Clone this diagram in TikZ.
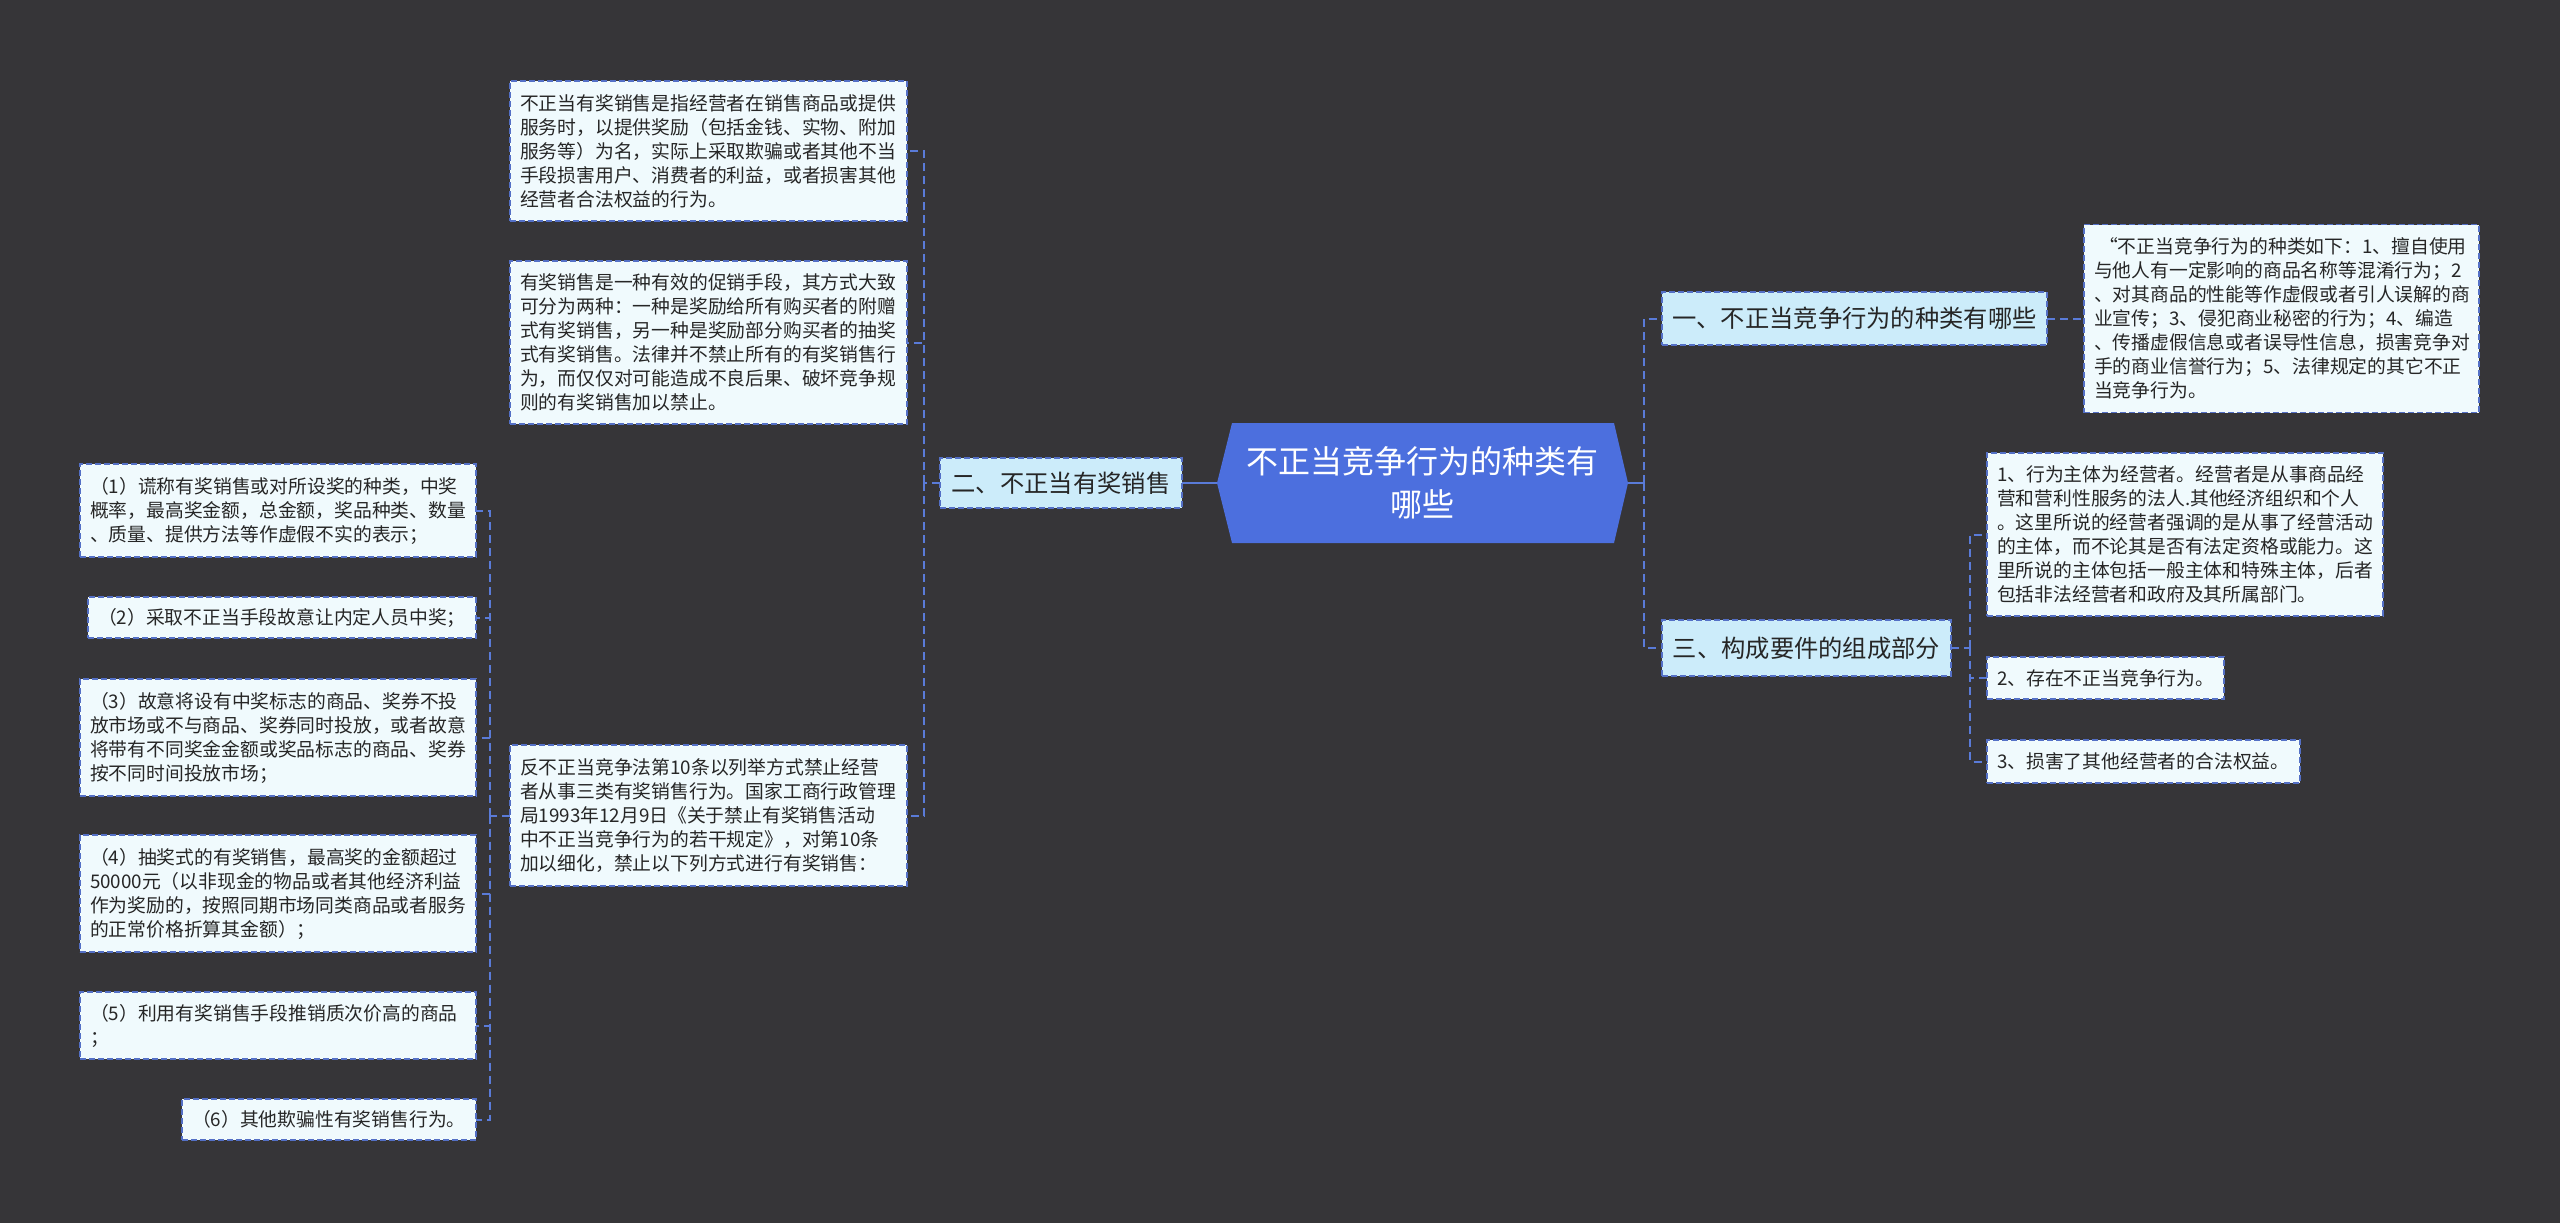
\documentclass[tikz,border=0pt]{standalone}
\usepackage{fontspec}
\setmainfont{Noto Sans CJK SC}
\usetikzlibrary{positioning, calc, backgrounds}
\definecolor{bgdark}{RGB}{54,53,56}
\definecolor{rootblue}{RGB}{76,111,222}
\definecolor{keyfill}{RGB}{204,236,250}
\definecolor{leaffill}{RGB}{240,250,253}
\definecolor{edgeblue}{RGB}{84,112,198}
\definecolor{linkblue}{RGB}{90,123,216}

\begin{document}
\begin{tikzpicture}[x=1pt, y=-1pt,
    every node/.style={inner sep=0pt, outer sep=0pt, text=black!85},
    root/.style={minimum width=411pt, minimum height=120pt, text=white, align=center, font=\fontsize{32}{43}\selectfont},
    keybox/.style={draw=edgeblue, dash pattern=on 6pt off 3pt, line width=1.5pt, fill=keyfill, minimum height=53pt, font=\fontsize{24.3}{30}\selectfont},
    leafbox/.style={draw=edgeblue, dash pattern=on 6pt off 3pt, line width=1.5pt, fill=leaffill, inner xsep=10pt, inner ysep=4pt, align=left, font=\fontsize{18.8}{24}\selectfont},
    link/.style={draw=linkblue, line width=2pt, dash pattern=on 8pt off 5pt},
    trunk/.style={draw=linkblue, line width=2pt}]

    \begin{scope}[on background layer]
        \fill[bgdark] ({0},{0}) rectangle ({2560},{1223});
    \end{scope}

    % centre
    \node[root] (root) at ({1422.5},{483}) {不正当竞争行为的种类有\\哪些};
    \begin{scope}[on background layer]
        \fill[rootblue] (root.west) -- ([xshift=15pt]root.north west) -- ([xshift=-14pt]root.north east)
            -- (root.east) -- ([xshift=-14pt]root.south east) -- ([xshift=15pt]root.south west) -- cycle;
    \end{scope}

    % first level
    \node[keybox, minimum width=385pt] (k1) at ({1854.5},{318.5}) {一、不正当竞争行为的种类有哪些};
    \node[keybox, minimum width=242pt, minimum height=50pt] (k2) at ({1061},{483}) {二、不正当有奖销售};
    \node[keybox, minimum width=289pt, minimum height=56pt] (k3) at ({1806.5},{648}) {三、构成要件的组成部分};

    % right side
    \node[leafbox, text width=375pt, minimum height=188pt] (r1) at ({2281.5},{318.5}) {\hspace{5pt}“不正当竞争行为的种类如下：1、擅自使用\\与他人有一定影响的商品名称等混淆行为；2\\、对其商品的性能等作虚假或者引人误解的商\\业宣传；3、侵犯商业秘密的行为；4、编造\\、传播虚假信息或者误导性信息，损害竞争对\\手的商业信誉行为；5、法律规定的其它不正\\当竞争行为。};
    \node[leafbox, text width=376pt, minimum height=163pt, anchor=west] (s1) at ({1987},{534.5}) {1、行为主体为经营者。经营者是从事商品经\\营和营利性服务的法人.其他经济组织和个人\\。这里所说的经营者强调的是从事了经营活动\\的主体，而不论其是否有法定资格或能力。这\\里所说的主体包括一般主体和特殊主体，后者\\包括非法经营者和政府及其所属部门。};
    \node[leafbox, text width=217pt, minimum height=42pt, anchor=west] (s2) at ({1987},{678}) {2、存在不正当竞争行为。};
    \node[leafbox, text width=293pt, minimum height=43pt, anchor=west] (s3) at ({1987},{761.5}) {3、损害了其他经营者的合法权益。};

    % left side, middle column
    \node[leafbox, text width=377pt, minimum height=140pt] (b1) at ({708.5},{151}) {不正当有奖销售是指经营者在销售商品或提供\\服务时，以提供奖励（包括金钱、实物、附加\\服务等）为名，实际上采取欺骗或者其他不当\\手段损害用户、消费者的利益，或者损害其他\\经营者合法权益的行为。};
    \node[leafbox, text width=377pt, minimum height=163pt] (b2) at ({708.5},{342.5}) {有奖销售是一种有效的促销手段，其方式大致\\可分为两种：一种是奖励给所有购买者的附赠\\式有奖销售，另一种是奖励部分购买者的抽奖\\式有奖销售。法律并不禁止所有的有奖销售行\\为，而仅仅对可能造成不良后果、破坏竞争规\\则的有奖销售加以禁止。};
    \node[leafbox, text width=377pt, minimum height=141pt] (b3) at ({708.5},{815.5}) {反不正当竞争法第10条以列举方式禁止经营\\者从事三类有奖销售行为。国家工商行政管理\\局1993年12月9日《关于禁止有奖销售活动\\中不正当竞争行为的若干规定》，对第10条\\加以细化，禁止以下列方式进行有奖销售：};

    % left side, outer column
    \node[leafbox, text width=376pt, minimum height=93pt, anchor=east] (l1) at ({476},{510.5}) {（1）谎称有奖销售或对所设奖的种类，中奖\\概率，最高奖金额，总金额，奖品种类、数量\\、质量、提供方法等作虚假不实的表示；};
    \node[leafbox, text width=368pt, minimum height=41pt, anchor=east] (l2) at ({476},{617.5}) {（2）采取不正当手段故意让内定人员中奖；};
    \node[leafbox, text width=376pt, minimum height=117pt, anchor=east] (l3) at ({476},{737.5}) {（3）故意将设有中奖标志的商品、奖券不投\\放市场或不与商品、奖券同时投放，或者故意\\将带有不同奖金金额或奖品标志的商品、奖券\\按不同时间投放市场；};
    \node[leafbox, text width=376pt, minimum height=117pt, anchor=east] (l4) at ({476},{893.5}) {（4）抽奖式的有奖销售，最高奖的金额超过\\50000元（以非现金的物品或者其他经济利益\\作为奖励的，按照同期市场同类商品或者服务\\的正常价格折算其金额）；};
    \node[leafbox, text width=376pt, minimum height=67pt, anchor=east] (l5) at ({476},{1025.5}) {（5）利用有奖销售手段推销质次价高的商品\\；};
    \node[leafbox, text width=274pt, minimum height=41pt, anchor=east] (l6) at ({476},{1119.5}) {（6）其他欺骗性有奖销售行为。};

    % joints
    \coordinate (rj) at ({1644},{483});
    \coordinate (lj) at ({924},{483});
    \coordinate (bj) at ({490},{815.5});
    \coordinate (kj) at ({1970},{648});

    % connectors
    \draw[trunk] (root.west) -- (k2.east);
    \draw[trunk] (root.east) -- (rj);
    \draw[link] (rj) |- (k1.west);
    \draw[link] (rj) |- (k3.west);
    \draw[link] (k1.east) -- (r1.west);
    \draw[link] (k3.east) -- (kj);
    \draw[link] (kj) |- (s1.west);
    \draw[link] (kj) |- (s2.west);
    \draw[link] (kj) |- (s3.west);
    \draw[link] (k2.west) -- (lj);
    \draw[link] (lj) |- (b1.east);
    \draw[link] (lj) |- (b2.east);
    \draw[link] (lj) |- (b3.east);
    \draw[link] (b3.west) -- (bj);
    \draw[link] (bj) |- (l1.east);
    \draw[link] (bj) |- (l2.east);
    \draw[link] (bj) |- (l3.east);
    \draw[link] (bj) |- (l4.east);
    \draw[link] (bj) |- (l5.east);
    \draw[link] (bj) |- (l6.east);
\end{tikzpicture}
\end{document}
